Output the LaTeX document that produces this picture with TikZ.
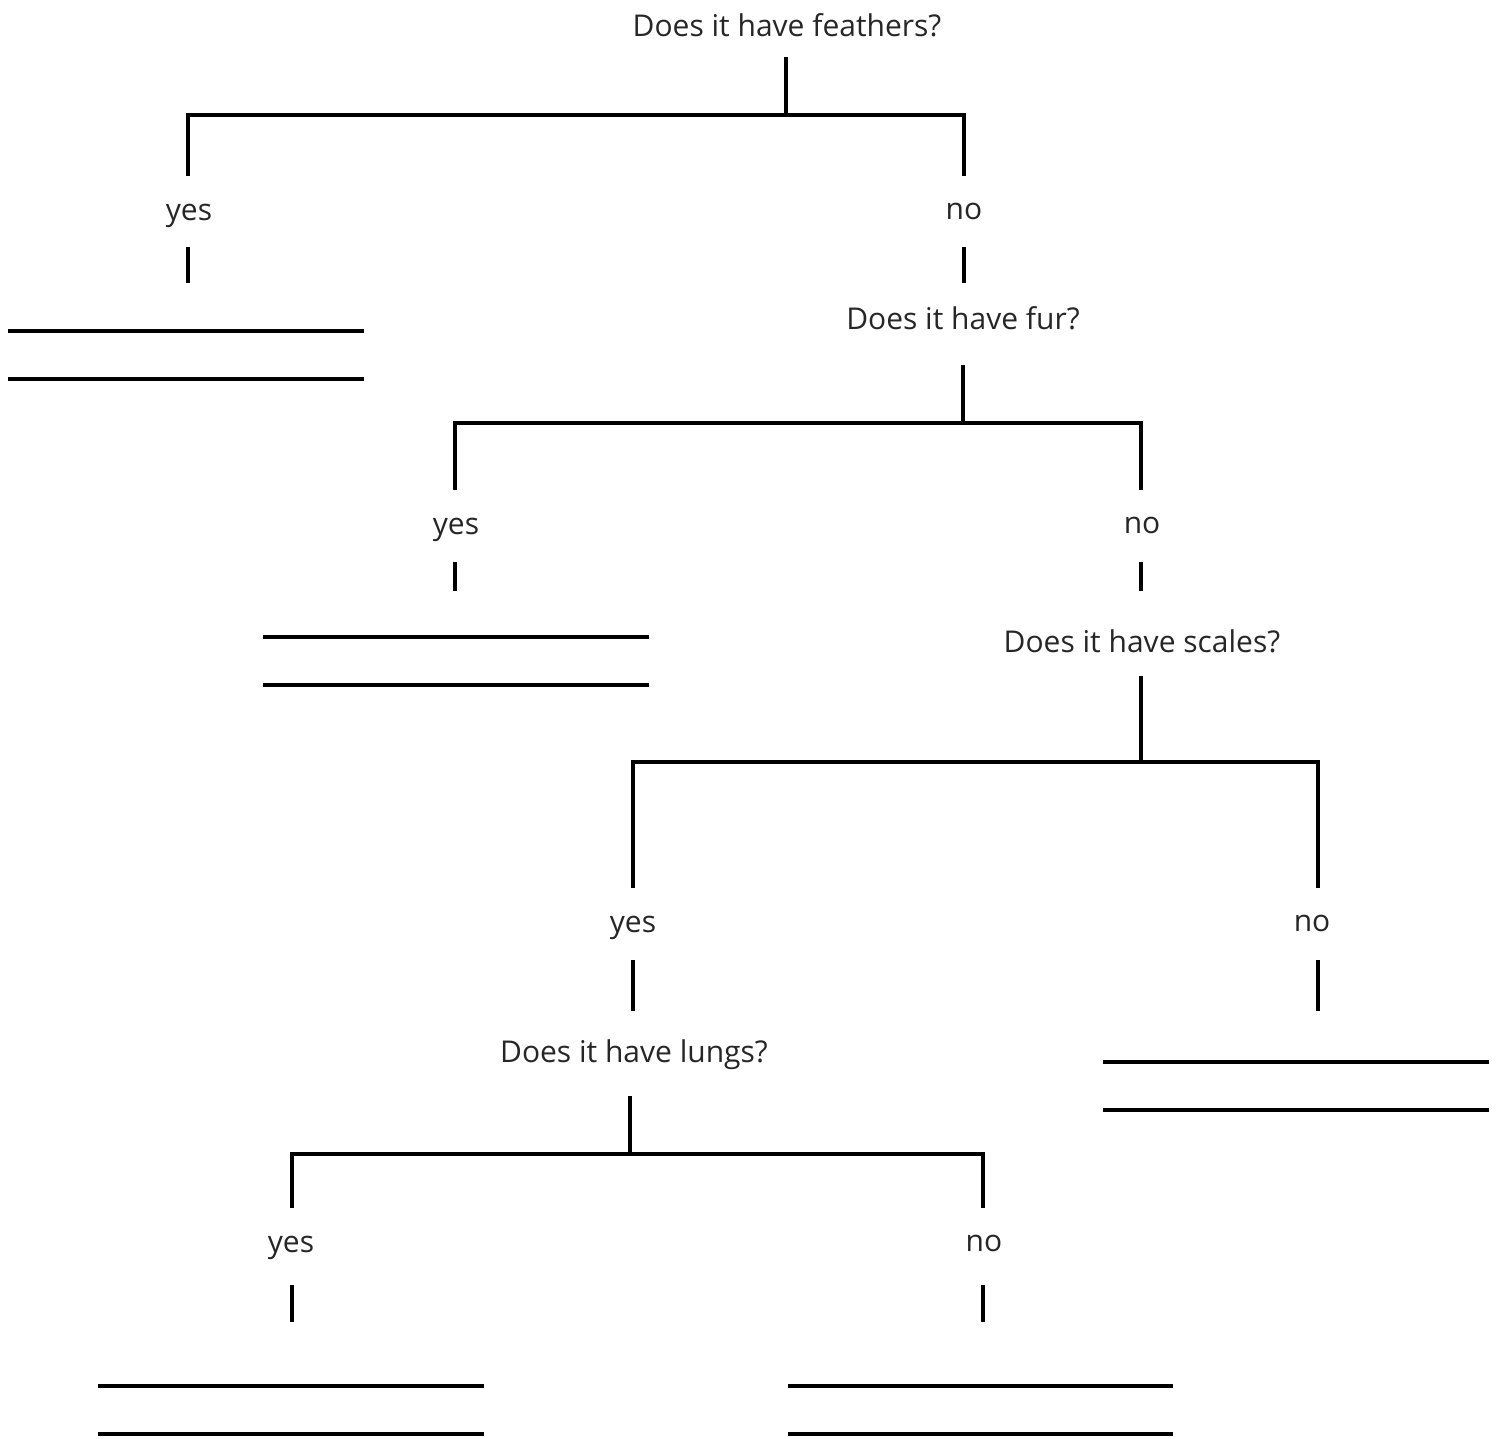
\documentclass[tikz,border=0pt]{standalone}
\usepackage{fontspec}
\setmainfont{Open Sans}
\begin{document}
\begin{tikzpicture}[x=1pt,y=-1pt,
  txt/.style={inner sep=0pt,font=\fontsize{30}{36}\selectfont,text=black!85},
  br/.style={line width=3.6pt,line cap=butt,line join=miter},
  blank/.style={line width=3.6pt}]
\useasboundingbox (0,0) rectangle (1501,1439);
% level 1
\node[txt] (q1) at (787,25) {Does it have feathers?};
\coordinate (q1s) at (786,57);
\coordinate (q1j) at (786,115);
\coordinate (q1l) at (188,176);
\coordinate (q1r) at (964,176);
\draw[br] (q1s) -- (q1j);
\draw[br] (q1l) |- (q1j) -| (q1r);
\node[txt] (y1) at (189,216) {yes};
\node[txt] (n1) at (964,211) {no};
\coordinate (y1a) at (188,247); \coordinate (y1b) at (188,283);
\coordinate (n1a) at (964,247); \coordinate (n1b) at (964,283);
\draw[br] (y1a) -- (y1b);
\draw[br] (n1a) -- (n1b);
\coordinate (a1a) at (8,331); \coordinate (a1b) at (364,331);
\coordinate (a1c) at (8,379); \coordinate (a1d) at (364,379);
\draw[blank] (a1a) -- (a1b);
\draw[blank] (a1c) -- (a1d);
% level 2
\node[txt] (q2) at (963,318) {Does it have fur?};
\coordinate (q2s) at (963,365);
\coordinate (q2j) at (963,423);
\coordinate (q2l) at (455,490);
\coordinate (q2r) at (1141,490);
\draw[br] (q2s) -- (q2j);
\draw[br] (q2l) |- (q2j) -| (q2r);
\node[txt] (y2) at (456,530) {yes};
\node[txt] (n2) at (1142,525) {no};
\coordinate (y2a) at (455,562); \coordinate (y2b) at (455,591);
\coordinate (n2a) at (1141,562); \coordinate (n2b) at (1141,591);
\draw[br] (y2a) -- (y2b);
\draw[br] (n2a) -- (n2b);
\coordinate (a2a) at (263,637); \coordinate (a2b) at (649,637);
\coordinate (a2c) at (263,685); \coordinate (a2d) at (649,685);
\draw[blank] (a2a) -- (a2b);
\draw[blank] (a2c) -- (a2d);
% level 3
\node[txt] (q3) at (1142,641) {Does it have scales?};
\coordinate (q3s) at (1141,676);
\coordinate (q3j) at (1141,762);
\coordinate (q3l) at (633,888);
\coordinate (q3r) at (1318,888);
\draw[br] (q3s) -- (q3j);
\draw[br] (q3l) |- (q3j) -| (q3r);
\node[txt] (y3) at (633,928) {yes};
\node[txt] (n3) at (1312,923) {no};
\coordinate (y3a) at (633,960); \coordinate (y3b) at (633,1011);
\coordinate (n3a) at (1318,960); \coordinate (n3b) at (1318,1011);
\draw[br] (y3a) -- (y3b);
\draw[br] (n3a) -- (n3b);
\coordinate (a3a) at (1103,1062); \coordinate (a3b) at (1489,1062);
\coordinate (a3c) at (1103,1110); \coordinate (a3d) at (1489,1110);
\draw[blank] (a3a) -- (a3b);
\draw[blank] (a3c) -- (a3d);
% level 4
\node[txt] (q4) at (634,1055) {Does it have lungs?};
\coordinate (q4s) at (630,1096);
\coordinate (q4j) at (630,1154);
\coordinate (q4l) at (292,1208);
\coordinate (q4r) at (983,1208);
\draw[br] (q4s) -- (q4j);
\draw[br] (q4l) |- (q4j) -| (q4r);
\node[txt] (y4) at (291,1248) {yes};
\node[txt] (n4) at (984,1243) {no};
\coordinate (y4a) at (292,1285); \coordinate (y4b) at (292,1322);
\coordinate (n4a) at (983,1285); \coordinate (n4b) at (983,1322);
\draw[br] (y4a) -- (y4b);
\draw[br] (n4a) -- (n4b);
\coordinate (a4a) at (98,1386); \coordinate (a4b) at (484,1386);
\coordinate (a4c) at (98,1434); \coordinate (a4d) at (484,1434);
\draw[blank] (a4a) -- (a4b);
\draw[blank] (a4c) -- (a4d);
\coordinate (a5a) at (788,1386); \coordinate (a5b) at (1173,1386);
\coordinate (a5c) at (788,1434); \coordinate (a5d) at (1173,1434);
\draw[blank] (a5a) -- (a5b);
\draw[blank] (a5c) -- (a5d);
\end{tikzpicture}
\end{document}
